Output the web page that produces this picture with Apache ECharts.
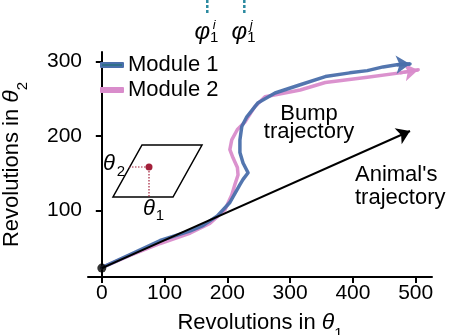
<!DOCTYPE html>
<html>
<head>
<meta charset="utf-8">
<script src="https://cdn.jsdelivr.net/npm/echarts@6/dist/echarts.min.js"></script>
<style>
  html, body { margin: 0; padding: 0; background: #fff; }
  #chart { width: 458px; height: 335px; }
</style>
</head>
<body>
<div id="chart"></div>
<script>
// Tick positions on both axes
const xTicks = [0, 100, 200, 300, 400, 500];
const yTicks = [100, 200, 300];

// Decoded bump trajectories (revolutions in theta1, revolutions in theta2)
const module1Path = [
  [0, 23.5], [45, 41], [93, 60], [141, 73], [161, 80], [184, 93], [204, 111],
  [220, 135], [225, 142], [233, 151], [225, 164], [220, 178], [220, 195],
  [223, 213], [231, 226], [249, 245], [276, 258], [316, 269], [356, 280],
  [395, 285], [423, 288], [448, 293], [470, 296], [491, 297]
];
const module2Path = [
  [0, 23.5], [45, 40], [93, 56], [141, 70], [172, 83], [196, 101], [207, 121],
  [212, 135], [217, 148], [216, 158], [209, 171], [204, 182], [207, 195],
  [216, 209], [228, 219], [244, 240], [260, 253], [279, 256], [316, 262],
  [356, 272], [423, 279], [475, 285], [504, 289]
];

// Animal's own trajectory: start and end point
const animalPath = [[0, 23], [491, 207]];

// Grid-cell phases marked above the plot
const phiX = [168, 227];
const phiSup = ['i', 'j'];

const FONT = 'Liberation Sans';
const BLUE = '#4a6fab';
const BLUE_KEY = '#2f6f88';
const PINK = '#d98ccb';
const RED = '#a3203a';
const TEAL = '#2b8aa0';

const chart = echarts.init(document.getElementById('chart'));

const subRich = {
  t: { fontFamily: FONT, fontStyle: 'italic', fontSize: 23, color: '#000' },
  s: { fontFamily: FONT, fontSize: 15, color: '#000', verticalAlign: 'bottom', lineHeight: 36 }
};

// A trajectory drawn as a polyline plus an arrowhead on its final step
function trajectorySeries(name, path, color, z) {
  return [
    {
      name: name,
      type: 'lines',
      coordinateSystem: 'cartesian2d',
      polyline: true,
      z: z,
      lineStyle: { color: color, width: 3.5, opacity: 0.95, join: 'round', cap: 'round' },
      data: [{ coords: path }]
    },
    {
      name: name,
      type: 'lines',
      coordinateSystem: 'cartesian2d',
      z: z,
      symbol: ['none', 'arrow'],
      symbolSize: 14,
      lineStyle: { color: color, width: 3.5, opacity: 0.95 },
      data: [{ coords: path.slice(-2) }]
    }
  ];
}

chart.setOption({
  animation: false,
  grid: { left: 88, right: 26, top: 52, bottom: 58, outerBoundsMode: 'none', containLabel: false },
  legend: {
    orient: 'vertical',
    left: 100,
    top: 54,
    padding: 0,
    icon: 'rect',
    itemWidth: 22,
    itemHeight: 4,
    itemGap: 3,
    textStyle: { fontFamily: FONT, fontSize: 22, color: '#000' },
    data: [
      { name: 'Module 1', itemStyle: { color: BLUE_KEY } },
      { name: 'Module 2', itemStyle: { color: PINK } }
    ]
  },
  xAxis: {
    type: 'value',
    min: -22,
    max: 526,
    name: 'Revolutions in {t|θ}{s|1}',
    nameLocation: 'middle',
    nameGap: 28,
    nameTextStyle: { fontFamily: FONT, fontSize: 22, color: '#000', rich: subRich },
    axisLine: { lineStyle: { color: '#000', width: 2 } },
    axisTick: { customValues: xTicks, length: 6, lineStyle: { color: '#000', width: 2 } },
    axisLabel: { customValues: xTicks, margin: 6, fontFamily: FONT, fontSize: 21, color: '#000' },
    splitLine: { show: false }
  },
  yAxis: {
    type: 'value',
    min: 11,
    max: 313,
    name: 'Revolutions in {t|θ}{s|2}',
    nameLocation: 'middle',
    nameGap: 58,
    nameTextStyle: { fontFamily: FONT, fontSize: 22, color: '#000', rich: subRich },
    axisLine: { lineStyle: { color: '#000', width: 2 } },
    axisTick: { customValues: yTicks, length: 6, lineStyle: { color: '#000', width: 2 } },
    axisLabel: { customValues: yTicks, margin: 6, fontFamily: FONT, fontSize: 21, color: '#000' },
    splitLine: { show: false }
  },
  series: trajectorySeries('Module 2', module2Path, PINK, 2)
    .concat(trajectorySeries('Module 1', module1Path, BLUE, 3))
    .concat([
      {
        name: 'Animal',
        type: 'lines',
        coordinateSystem: 'cartesian2d',
        z: 4,
        symbol: ['none', 'arrow'],
        symbolSize: 13,
        lineStyle: { color: '#000', width: 2, opacity: 1 },
        data: [{ coords: animalPath }]
      },
      {
        name: 'Start',
        type: 'scatter',
        z: 5,
        symbolSize: 9,
        itemStyle: { color: '#000' },
        data: [animalPath[0]]
      }
    ])
});

// Annotations: phase markers, inset diagram and trajectory captions
const graphics = [];

phiX.forEach(function (v, i) {
  const px = chart.convertToPixel({ xAxisIndex: 0 }, v);
  graphics.push({
    type: 'line',
    shape: { x1: px, y1: 0, x2: px, y2: 15 },
    style: { stroke: TEAL, lineWidth: 2.5, lineDash: [3, 2] }
  });
  graphics.push({
    type: 'text', x: px - 5, y: 32,
    style: { text: 'φ', font: 'italic 24px ' + FONT, fill: '#000', align: 'center', verticalAlign: 'middle' }
  });
  graphics.push({
    type: 'text', x: px + 7, y: 25,
    style: { text: phiSup[i], font: 'italic 13px ' + FONT, fill: '#000', align: 'center', verticalAlign: 'middle' }
  });
  graphics.push({
    type: 'text', x: px + 7, y: 38,
    style: { text: '1', font: '15px ' + FONT, fill: '#000', align: 'center', verticalAlign: 'middle' }
  });
});

// Inset: torus unit cell with a phase point
graphics.push(
  {
    type: 'polygon',
    shape: { points: [[142, 145], [202, 145], [173, 197], [113, 197]] },
    style: { fill: 'none', stroke: '#000', lineWidth: 1.5 }
  },
  {
    type: 'polyline',
    shape: { points: [[129, 167], [149, 167], [149, 197]] },
    style: { fill: 'none', stroke: RED, lineWidth: 1.2, lineDash: [1.5, 1.5] }
  },
  {
    type: 'circle',
    shape: { cx: 149, cy: 167, r: 3.5 },
    style: { fill: RED }
  },
  {
    type: 'text', x: 109, y: 164,
    style: { text: 'θ', font: 'italic 22px ' + FONT, fill: '#000', align: 'center', verticalAlign: 'middle' }
  },
  {
    type: 'text', x: 121, y: 172,
    style: { text: '2', font: '15px ' + FONT, fill: '#000', align: 'center', verticalAlign: 'middle' }
  },
  {
    type: 'text', x: 149, y: 209,
    style: { text: 'θ', font: 'italic 22px ' + FONT, fill: '#000', align: 'center', verticalAlign: 'middle' }
  },
  {
    type: 'text', x: 160, y: 216,
    style: { text: '1', font: '15px ' + FONT, fill: '#000', align: 'center', verticalAlign: 'middle' }
  },
  {
    type: 'text', x: 309, y: 105,
    style: { text: 'Bump\ntrajectory', font: '22px ' + FONT, lineHeight: 18, fill: '#000', align: 'center', verticalAlign: 'top' }
  },
  {
    type: 'text', x: 355, y: 163,
    style: { text: "Animal's\ntrajectory", font: '22px ' + FONT, lineHeight: 23, fill: '#000', align: 'left', verticalAlign: 'top' }
  }
);

chart.setOption({ graphic: graphics });
</script>
</body>
</html>
